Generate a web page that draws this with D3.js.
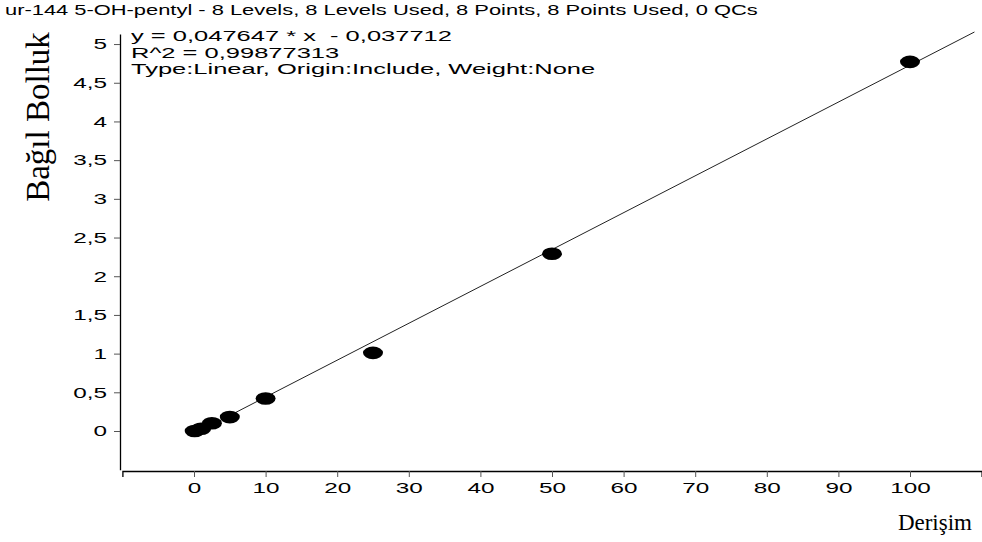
<!DOCTYPE html>
<html><head><meta charset="utf-8">
<script src="https://cdn.jsdelivr.net/npm/d3@7"></script>
<style>body{margin:0;background:#fff}svg{display:block}</style>
</head><body>
<script>
const concentrations = [0.1, 1, 2.5, 5, 10, 25, 50, 100];
const responses = [0.0, 0.03, 0.1, 0.18, 0.42, 1.01, 2.29, 4.77];
const slope = 0.047647, intercept = -0.037712;
const fitRange = [0, 109];
const xTicks = [0,10,20,30,40,50,60,70,80,90,100];
const yTicks = [0,0.5,1,1.5,2,2.5,3,3.5,4,4.5,5];
const titleText = "ur-144 5-OH-pentyl - 8 Levels, 8 Levels Used, 8 Points, 8 Points Used, 0 QCs";
const infoLines = ["y = 0,047647 * x  - 0,037712", "R^2 = 0,99877313", "Type:Linear, Origin:Include, Weight:None"];
const xLabel = "Derişim", yLabel = "Bağıl Bolluk";

const W = 982, H = 542;
const SX = 1.62; // horizontal stretch of tick labels
const svg = d3.select("body").append("svg").attr("width", W).attr("height", H);
const x = d3.scaleLinear().domain([-10, 110]).range([122.4, 981.6]);
const y = d3.scaleLinear().domain([-0.5, 5.13]).range([469.7, 34]);
const fmt = v => String(v).replace(".", ",");
const sans = "Liberation Sans, Arial, sans-serif";
const serif = "Liberation Serif, Times New Roman, serif";

const xa = svg.append("g").attr("transform", "translate(0,471)")
  .call(d3.axisBottom(x).tickValues(xTicks).tickFormat(fmt).tickSize(6).tickPadding(5).tickSizeOuter(6));
const ya = svg.append("g").attr("transform", "translate(120,0)")
  .call(d3.axisLeft(y).tickValues(yTicks).tickFormat(fmt).tickSize(6).tickPadding(5).tickSizeOuter(0));
[xa, ya].forEach(a => {
  a.select(".domain").attr("stroke", "#000").attr("stroke-width", 1.3);
  a.selectAll(".tick line").attr("stroke", "#555");
  a.selectAll("text").attr("font-family", sans).attr("font-size", 15).attr("fill", "#000")
    .attr("transform", `scale(${SX},1)`);
});
ya.selectAll("text").attr("x", -13 / SX);

svg.append("line")
  .attr("x1", x(fitRange[0])).attr("y1", y(slope*fitRange[0]+intercept))
  .attr("x2", x(fitRange[1])).attr("y2", y(slope*fitRange[1]+intercept))
  .attr("stroke", "#222").attr("stroke-width", 1);

svg.selectAll("ellipse.pt").data(concentrations).join("ellipse").attr("class","pt")
  .attr("cx", (d) => x(d)).attr("cy", (d, i) => y(responses[i]))
  .attr("rx", 10).attr("ry", 6.3).attr("fill", "#000");

function stretched(t, x0, y0, sx) {
  svg.append("text").attr("transform", `translate(${x0},${y0}) scale(${sx},1)`)
    .attr("font-family", sans).attr("font-size", 15).attr("xml:space", "preserve")
    .style("white-space", "pre").text(t);
}
stretched(titleText, 5, 15, 1.46);
infoLines.forEach((t, i) => stretched(t, 131, 41 + i*16.5, 1.7));

svg.append("text").attr("x", 972).attr("y", 530).attr("text-anchor", "end")
  .attr("font-family", serif).attr("font-size", 23).text(xLabel);
svg.append("text").attr("transform", "translate(49,117) rotate(-90)").attr("text-anchor", "middle")
  .attr("font-family", serif).attr("font-size", 33).text(yLabel);
</script>
</body></html>
